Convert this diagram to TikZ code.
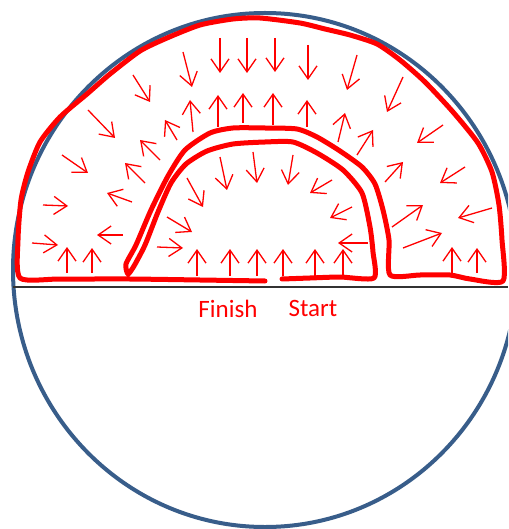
\documentclass[tikz,border=0pt]{standalone}
\usepackage{fontspec}
\setmainfont{Carlito}
\usetikzlibrary{arrows.meta}
\definecolor{rimblue}{RGB}{56,93,138}
\definecolor{flowred}{RGB}{255,0,0}
\definecolor{axisgray}{RGB}{50,50,50}

\begin{document}
\begin{tikzpicture}[
      x = 1pt, y = -1pt,
      rim/.style      = {draw=rimblue, line width=4pt},
      axis/.style     = {draw=axisgray, line width=1.2pt},
      redline/.style  = {draw=flowred, line width=5pt, line join=round, line cap=round},
      flowarrow/.style= {draw=flowred, line width=1.3pt,
                         -{Straight Barb[length=13pt, width=18pt]}},
      flowtext/.style = {text=flowred, font=\fontsize{25}{30}\selectfont, anchor=base,
                         inner sep=0pt}
    ]
    \clip (0,0) rectangle (508,529);
    \fill[white] (0,0) rectangle (508,529);

    % Circle and diameter
    \draw[rim] (265,270) ellipse[x radius=252, y radius=257];
    \draw[axis] (13,287) -- (508,287);

    % Red loop, from Finish round to Start
    \draw[redline] plot[smooth, tension=0.4] coordinates {
      (265,281) (200,280) (130,279) (60,279) (20,278) (18,240) (21,200)
      (28,172) (40,142) (60,117) (87,94) (110,74) (140,51) (167,38) (200,25)
      (233,19) (260,18) (300,23) (325,29) (350,35) (377,44) (400,60) (425,82)
      (453,112) (478,143) (492,172) (499,205) (502,240) (503,281) (470,279)
      (450,275) (420,275) (390,275)
      (389,240) (383,210) (375,184) (362,167) (340,151) (317,137) (297,129)
      (265,128) (233,128) (210,133) (185,150) (168,176) (151,210) (136,245)
      (126,264) (128,274) (134,266) (145,245) (158,212) (171,183) (186,164)
      (207,151) (233,144) (265,142) (293,142) (317,153) (343,170) (362,193)
      (370,227) (373,252) (374,278) (340,277) (310,278) (282,279)};

    % Flow arrows
    \foreach \ax/\ay/\bx/\by in {
        183/52/192/87, 220/38/220/73, 247/38/247/73, 275/38/275/72,
        308/45/308/80, 357/55/347/90, 403/77/387/112, 133/75/150/102,
        88/110/115/138, 62/155/88/173, 43/205/68/206, 32/243/58/245,
        443/125/417/143, 465/167/440/183, 492/208/458/218,
        67/273/67/247, 92/273/92/248, 452/273/452/247, 477/273/477/248,
        123/235/97/235, 132/202/107/193, 145/183/125/163, 160/160/140/140,
        177/140/165/120, 193/132/190/100, 218/127/218/95, 243/123/243/93,
        273/125/273/93, 307/127/307/100, 338/142/345/113, 357/155/373/130,
        385/182/403/162, 392/227/423/205, 403/248/442/233,
        187/178/203/207, 220/157/227/190, 253/152/257/183, 293/155/288/185,
        332/180/310/193, 352/207/330/218, 368/243/338/243,
        167/217/192/232, 157/247/183/248,
        197/276/197/249, 230/276/230/249, 257/276/257/249,
        283/276/283/249, 315/276/315/249, 343/276/343/249}
      \draw[flowarrow] (\ax,\ay) -- (\bx,\by);

    % Labels
    \node[flowtext] (finish) at (228,317) {Finish};
    \node[flowtext] (start) at (313,316) {Start};

  \end{tikzpicture}
\end{document}
